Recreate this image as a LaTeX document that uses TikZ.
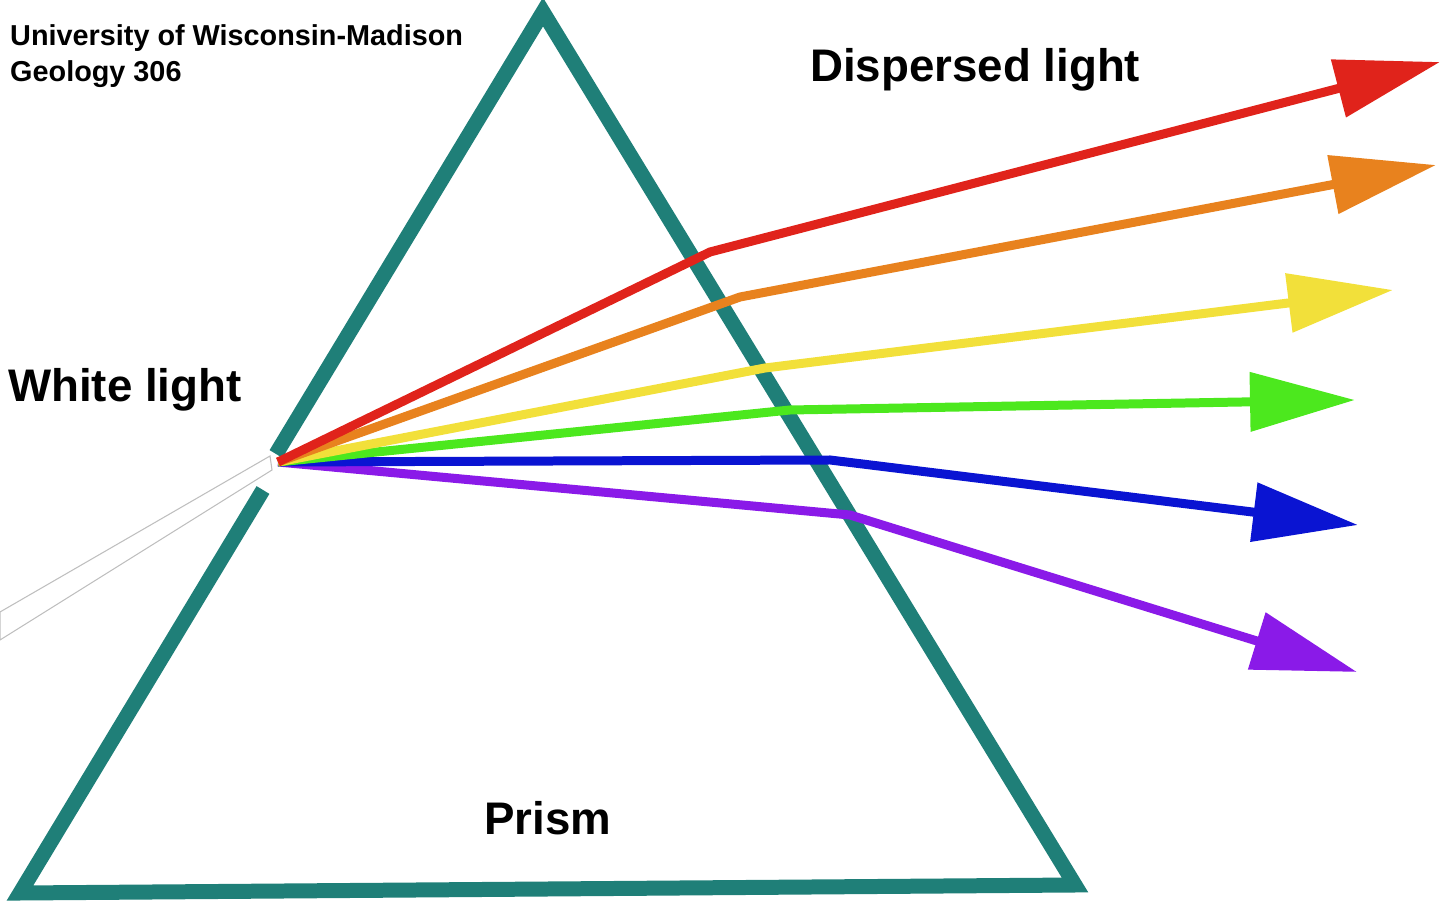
\documentclass[tikz,border=0pt]{standalone}
\usepackage{fontspec}
\setmainfont{Liberation Sans}
\usetikzlibrary{arrows.meta}
\definecolor{prismteal}{HTML}{1F7F78}
\definecolor{rayred}{HTML}{E0231B}
\definecolor{rayorange}{HTML}{E8821E}
\definecolor{rayyellow}{HTML}{F2E03A}
\definecolor{raygreen}{HTML}{4CE81E}
\definecolor{rayblue}{HTML}{0A14D2}
\definecolor{rayviolet}{HTML}{8A1AE8}
\tikzset{
  prismside/.style={draw=prismteal, line width=0.3cm, line cap=butt, line join=miter},
  rayline/.style={line width=0.18cm, -{Triangle[length=2.1cm,width=1.15cm]}},
  biglabel/.style={font=\bfseries\fontsize{26}{30}\selectfont, anchor=west},
  smalllabel/.style={font=\bfseries\fontsize{16.4}{21}\selectfont, anchor=north west, align=left}
}
\begin{document}
\begin{tikzpicture}[x=0.02cm, y=-0.02cm]
  \useasboundingbox (0,0) rectangle (1440,911);
  % prism corners
  \coordinate (apex) at (543,12);
  \coordinate (gapTop) at (276,454);
  \coordinate (gapBot) at (263,490);
  \coordinate (botLeft) at (20,893);
  \coordinate (botRight) at (1075,885);
  \draw[prismside] (gapTop) -- (apex) -- (botRight) -- (botLeft) -- (gapBot);
  % white light beam
  \coordinate (beamA) at (0,612);
  \coordinate (beamB) at (0,640);
  \coordinate (entry) at (278,462);
  \fill[white, draw=gray!50, line width=0.6pt] (beamA) -- (270,456) -- (272,470) -- (beamB) -- cycle;
  % exit points and tips
  \coordinate (exitRed) at (710,252);
  \coordinate (exitOrange) at (740,297);
  \coordinate (exitYellow) at (765,368);
  \coordinate (exitGreen) at (790,410);
  \coordinate (exitBlue) at (830,460);
  \coordinate (exitViolet) at (850,515);
  \coordinate (tipRed) at (1440,62);
  \coordinate (tipOrange) at (1436,165);
  \coordinate (tipYellow) at (1393,290);
  \coordinate (tipGreen) at (1355,400);
  \coordinate (tipBlue) at (1358,525);
  \coordinate (tipViolet) at (1357,672);
  \draw[rayline, rayviolet] (entry) -- (exitViolet) -- (tipViolet);
  \draw[rayline, rayblue] (entry) -- (exitBlue) -- (tipBlue);
  \draw[rayline, raygreen] (entry) -- (exitGreen) -- (tipGreen);
  \draw[rayline, rayyellow] (entry) -- (exitYellow) -- (tipYellow);
  \draw[rayline, rayorange] (entry) -- (exitOrange) -- (tipOrange);
  \draw[rayline, rayred] (entry) -- (exitRed) -- (tipRed);
  % labels
  \node[smalllabel] (uni) at (4,18) {University of Wisconsin-Madison\\Geology 306};
  \node[biglabel] (dispersed) at (804,70) {Dispersed light};
  \node[biglabel] (white) at (2,390) {White light};
  \node[biglabel] (prism) at (478,818) {Prism};
\end{tikzpicture}
\end{document}
